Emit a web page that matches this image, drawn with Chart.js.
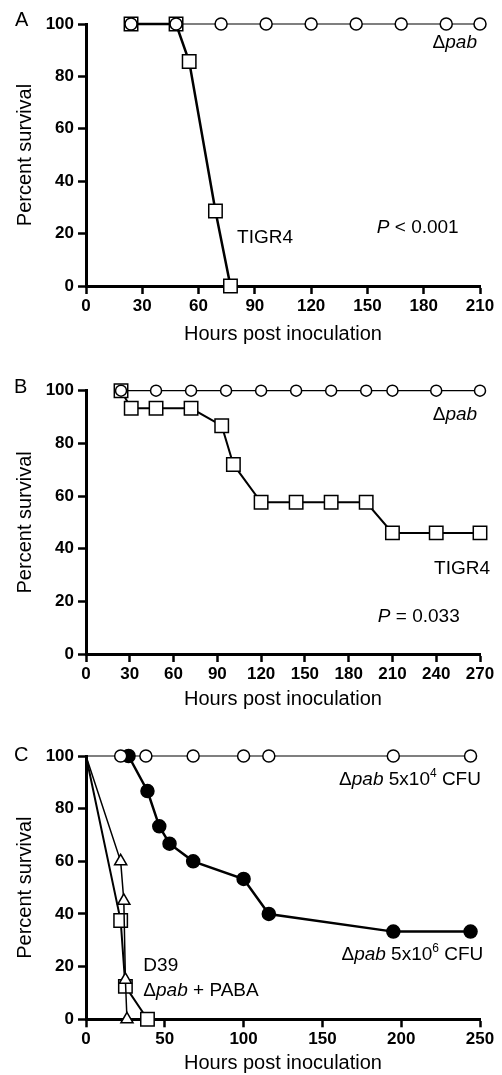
<!DOCTYPE html>
<html>
<head>
<meta charset="utf-8">
<script src="https://cdn.jsdelivr.net/npm/chart.js@4.4.1/dist/chart.umd.min.js"></script>
<style>
  html, body { margin: 0; padding: 0; background: #fff; }
  #wrap { position: relative; width: 502px; height: 1075px; }
  canvas { position: absolute; left: 0; }
</style>
</head>
<body>
<div id="wrap">
  <canvas id="chartA" width="502" height="345" style="top:0px"></canvas>
  <canvas id="chartB" width="502" height="365" style="top:345px"></canvas>
  <canvas id="chartC" width="502" height="365" style="top:710px"></canvas>
</div>
<script>
// Panel A
const hoursA_pab = [24, 48, 72, 96, 120, 144, 168, 192, 210];
const survA_pab = [100, 100, 100, 100, 100, 100, 100, 100, 100];
const hoursA_tigr4 = [24, 48, 55, 69, 77];
const survA_tigr4 = [100, 100, 85.7, 28.6, 0];

// Panel B
const hoursB_pab = [24, 48, 72, 96, 120, 144, 168, 192, 210, 240, 270];
const survB_pab = [100, 100, 100, 100, 100, 100, 100, 100, 100, 100, 100];
const hoursB_tigr4 = [24, 31, 48, 72, 93, 101, 120, 144, 168, 192, 210, 240, 270];
const survB_tigr4 = [100, 93.3, 93.3, 93.3, 86.7, 72, 57.6, 57.6, 57.6, 57.6, 46, 46, 46];

// Panel C
const hoursC_low = [0, 22, 38, 68, 100, 116, 195, 244];
const survC_low = [100, 100, 100, 100, 100, 100, 100, 100];
const hoursC_high = [27, 39, 46.5, 53, 68, 100, 116, 195, 244];
const survC_high = [100, 86.7, 73.3, 66.7, 60, 53.3, 40, 33.3, 33.3];
const hoursC_d39 = [0, 22, 24, 25, 26];
const survC_d39 = [100, 60, 45, 15, 0];
const hoursC_paba = [0, 22, 25, 39];
const survC_paba = [100, 37.5, 12.5, 0];

const yTicks = [0, 20, 40, 60, 80, 100];

const family = '"Liberation Sans", Arial, sans-serif';

function pts(xs, ys) {
    return xs.map((x, i) => ({ x: x, y: ys[i] }));
}

// first point (origin at 0 h) has no marker in panel C
function radii(xs, r) {
    return xs.map(x => x === 0 ? 0 : r);
}

function series(xs, ys, style, opts) {
    return Object.assign({
        data: pts(xs, ys),
        showLine: true,
        borderColor: '#000',
        pointBorderColor: '#000',
        pointBackgroundColor: '#fff',
        pointBorderWidth: 1.5,
        pointStyle: style,
        clip: false,
        tension: 0,
    }, opts);
}

function drawRich(ctx, parts, x, y, align, size) {
    const fonts = {
        n: size + 'px ' + family,
        i: 'italic ' + size + 'px ' + family,
        sup: Math.round(size * 0.65) + 'px ' + family,
    };
    let total = 0;
    parts.forEach(p => { ctx.font = fonts[p[1]]; total += ctx.measureText(p[0]).width; });
    let cx = align === 'right' ? x - total : x;
    parts.forEach(p => {
        ctx.font = fonts[p[1]];
        ctx.fillText(p[0], cx, p[1] === 'sup' ? y - size * 0.35 : y);
        cx += ctx.measureText(p[0]).width;
    });
}

const textPlugin = {
    id: 'panelText',
    afterDatasetsDraw(chart, args, opts) {
        const ctx = chart.ctx;
        const xs = chart.scales.x, ys = chart.scales.y;
        ctx.save();
        ctx.fillStyle = '#000';
        ctx.textBaseline = 'middle';
        ctx.textAlign = 'left';
        ctx.font = '20px ' + family;
        ctx.fillText(opts.letter[0], opts.letter[1], opts.letter[2]);
        opts.notes.forEach(n => {
            drawRich(ctx, n.parts, xs.getPixelForValue(n.x), ys.getPixelForValue(n.y), n.align, 19);
        });
        ctx.restore();
    }
};

function makeChart(id, datasets, xMax, xStep, areaTop, xHeight, xTitlePad, letter, notes) {
    const ctx = document.getElementById(id).getContext('2d');
    return new Chart(ctx, {
        type: 'line',
        data: { datasets: datasets },
        options: {
            responsive: false,
            animation: false,
            devicePixelRatio: 1,
            layout: { padding: { top: areaTop, right: 22, left: 0, bottom: 0 } },
            plugins: {
                legend: { display: false },
                tooltip: { enabled: false },
                panelText: { letter: letter, notes: notes },
            },
            scales: {
                x: {
                    type: 'linear',
                    min: 0,
                    max: xMax,
                    border: { display: true, width: 3, color: '#000' },
                    grid: { drawOnChartArea: false, drawTicks: true, tickLength: 8, tickWidth: 2.5, tickColor: '#000' },
                    ticks: { stepSize: xStep, color: '#000', padding: 2, maxRotation: 0, autoSkip: false,
                        font: { family: family, size: 17, weight: 'bold' } },
                    title: { display: true, text: 'Hours post inoculation', color: '#000',
                        font: { family: family, size: 20, lineHeight: 1 }, padding: { top: 0, bottom: xTitlePad } },
                    afterFit(s) { s.height = xHeight; },
                },
                y: {
                    type: 'linear',
                    min: 0,
                    max: 100,
                    border: { display: true, width: 3, color: '#000' },
                    grid: { drawOnChartArea: false, drawTicks: true, tickLength: 8, tickWidth: 2.5, tickColor: '#000' },
                    afterBuildTicks(s) { s.ticks = yTicks.map(v => ({ value: v })); },
                    ticks: { color: '#000', padding: 4,
                        font: { family: family, size: 17, weight: 'bold' } },
                    title: { display: true, text: 'Percent survival', color: '#000',
                        font: { family: family, size: 20, lineHeight: 1 }, padding: { top: 15, bottom: 0 } },
                    afterFit(s) { s.width = 86; },
                },
            },
        },
        plugins: [textPlugin],
    });
}

makeChart('chartA', [
    series(hoursA_pab, survA_pab, 'circle', { borderWidth: 1.2, pointRadius: 6 }),
    series(hoursA_tigr4, survA_tigr4, 'rect', { borderWidth: 2.5, pointRadius: 9.5 }),
], 210, 30, 24, 59, 0.5, ['A', 15, 20], [
    { parts: [['\u0394', 'n'], ['pab', 'i']], x: 208.4, y: 92.7, align: 'right' },
    { parts: [['TIGR4', 'n']], x: 80.5, y: 18.3, align: 'left' },
    { parts: [['P', 'i'], [' < 0.001', 'n']], x: 155, y: 22.1, align: 'left' },
]);

makeChart('chartB', [
    series(hoursB_pab, survB_pab, 'circle', { borderWidth: 1.2, pointRadius: 5.5 }),
    series(hoursB_tigr4, survB_tigr4, 'rect', { borderWidth: 2, pointRadius: 9.5 }),
], 270, 30, 45.7, 56, 0.5, ['B', 14, 42], [
    { parts: [['\u0394', 'n'], ['pab', 'i']], x: 268, y: 90.7, align: 'right' },
    { parts: [['TIGR4', 'n']], x: 276.9, y: 32.5, align: 'right' },
    { parts: [['P', 'i'], [' = 0.033', 'n']], x: 200, y: 14.2, align: 'left' },
]);

makeChart('chartC', [
    series(hoursC_low, survC_low, 'circle', { borderWidth: 1.2, pointRadius: radii(hoursC_low, 6) }),
    series(hoursC_high, survC_high, 'circle', { borderWidth: 2.5, pointRadius: 6.5, pointBackgroundColor: '#000' }),
    series(hoursC_d39, survC_d39, 'triangle', { borderWidth: 1.5, pointRadius: radii(hoursC_d39, 7) }),
    series(hoursC_paba, survC_paba, 'rect', { borderWidth: 2, pointRadius: radii(hoursC_paba, 9.5) }),
], 250, 50, 46, 55.7, 1.5, ['C', 14, 45], [
    { parts: [['\u0394', 'n'], ['pab', 'i'], [' 5x10', 'n'], ['4', 'sup'], [' CFU', 'n']], x: 250.6, y: 90.9, align: 'right' },
    { parts: [['\u0394', 'n'], ['pab', 'i'], [' 5x10', 'n'], ['6', 'sup'], [' CFU', 'n']], x: 252.1, y: 24.4, align: 'right' },
    { parts: [['D39', 'n']], x: 36.4, y: 20.2, align: 'left' },
    { parts: [['\u0394', 'n'], ['pab', 'i'], [' + PABA', 'n']], x: 36.4, y: 10.7, align: 'left' },
]);
</script>
</body>
</html>
